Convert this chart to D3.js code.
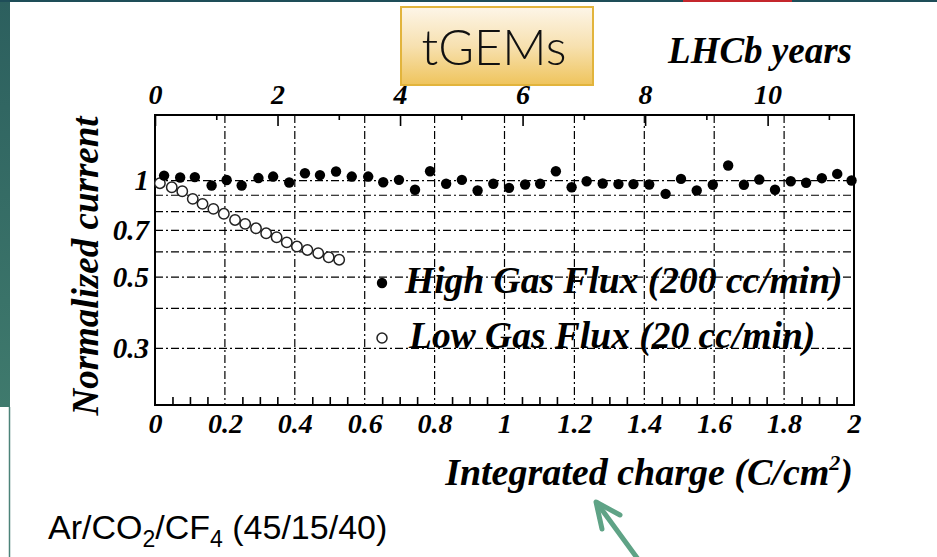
<!DOCTYPE html>
<html>
<head>
<meta charset="utf-8">
<script src="https://cdn.jsdelivr.net/npm/d3@7"></script>
<style>
  html, body { margin: 0; padding: 0; background: #fff; overflow: hidden; }
  svg { display: block; }
  .serif { font-family: "Liberation Serif", "Times New Roman", serif; font-weight: bold; font-style: italic; fill: #000; }
  .axis text { font-family: "Liberation Serif", "Times New Roman", serif; font-weight: bold; font-style: italic; fill: #000; }
  .axis line { stroke: #000; stroke-width: 1.6; }
  .axis path.domain { display: none; }
  .grid line { stroke: #000; stroke-width: 1.2; stroke-dasharray: 8,3,2,3; }
</style>
</head>
<body>
<div class="chart"></div>
<script>
// integrated charge (C/cm2) and normalized current
var chargeHigh = [0.026, 0.072, 0.114, 0.162, 0.205, 0.248, 0.296, 0.338, 0.384, 0.429,
                  0.472, 0.518, 0.563, 0.610, 0.653, 0.698, 0.744, 0.787, 0.833, 0.878,
                  0.923, 0.968, 1.013, 1.059, 1.102, 1.147, 1.192, 1.235, 1.281, 1.326,
                  1.369, 1.414, 1.461, 1.505, 1.550, 1.596, 1.640, 1.685, 1.729, 1.774,
                  1.819, 1.863, 1.908, 1.952, 1.993];
var currentHigh = [1.036, 1.022, 1.025, 0.965, 1.004, 0.965, 1.018, 1.029, 0.986, 1.054,
                   1.040, 1.067, 1.029, 1.029, 0.988, 1.005, 0.936, 1.069, 0.977, 1.005,
                   0.931, 0.977, 0.949, 0.972, 0.977, 1.069, 0.953, 0.995, 0.979, 0.975,
                   0.975, 0.972, 0.909, 1.012, 0.931, 0.970, 1.114, 0.970, 1.007, 0.936,
                   0.995, 0.984, 1.017, 1.049, 1.000];
var chargeLow = [0.014, 0.048, 0.078, 0.108, 0.136, 0.167, 0.197, 0.229, 0.258, 0.289,
                 0.318, 0.348, 0.377, 0.406, 0.436, 0.467, 0.497, 0.527];
var currentLow = [0.981, 0.953, 0.926, 0.877, 0.846, 0.816, 0.788, 0.754, 0.733, 0.710,
                  0.685, 0.666, 0.642, 0.623, 0.608, 0.594, 0.577, 0.567];

var xTicks = [0, 0.2, 0.4, 0.6, 0.8, 1, 1.2, 1.4, 1.6, 1.8, 2];
var xMinor = [0.05, 0.1, 0.15, 0.25, 0.3, 0.35, 0.45, 0.5, 0.55, 0.65, 0.7, 0.75,
              0.85, 0.9, 0.95, 1.05, 1.1, 1.15, 1.25, 1.3, 1.35, 1.45, 1.5, 1.55,
              1.65, 1.7, 1.75, 1.85, 1.9, 1.95];
var yTicks = [1, 0.7, 0.5, 0.3];
var yGrid = [0.3, 0.4, 0.5, 0.6, 0.7, 0.8, 0.9, 1];
var yearTicks = [0, 2, 4, 6, 8, 10];
var yearMinor = [1, 3, 5, 7, 9, 11];
var yearsAtFullCharge = 11.41;
var legendLabels = ['High Gas Flux (200 cc/min)', 'Low Gas Flux (20 cc/min)'];

var width = 937,
    height = 557,
    plotLeft = 155,
    plotRight = 854,
    plotTop = 115,
    plotBottom = 405,
    markerR = 5.2;

var svg = d3.select('.chart')
  .append('svg')
    .attr('width', width)
    .attr('height', height);

var defs = svg.append('defs');
var side = defs.append('linearGradient').attr('id', 'side')
    .attr('x1', 0).attr('y1', 0).attr('x2', 0).attr('y2', 1);
side.append('stop').attr('offset', 0).attr('stop-color', '#2c5f5e');
side.append('stop').attr('offset', 1).attr('stop-color', '#3f7a6d');
var gold = defs.append('linearGradient').attr('id', 'gold')
    .attr('x1', 0).attr('y1', 0).attr('x2', 0).attr('y2', 1);
gold.append('stop').attr('offset', 0).attr('stop-color', '#fdf5e8');
gold.append('stop').attr('offset', 0.5).attr('stop-color', '#f7e1b0');
gold.append('stop').attr('offset', 1).attr('stop-color', '#efc45c');

// slide frame
svg.append('rect').attr('x', 0).attr('y', 0).attr('width', 10).attr('height', 407)
    .attr('fill', 'url(#side)');
svg.append('line').attr('x1', 9.5).attr('x2', 9.5).attr('y1', 407).attr('y2', height)
    .attr('stroke', '#4c8379').attr('stroke-width', 1.5);
svg.append('rect').attr('x', 0).attr('y', 0).attr('width', width).attr('height', 2)
    .attr('fill', '#1e4d58');
svg.append('rect').attr('x', 683).attr('y', 0).attr('width', 109).attr('height', 2)
    .attr('fill', '#c4262c');

var x = d3.scaleLinear().domain([0, 2]).range([plotLeft, plotRight]);
var xYears = d3.scaleLinear().domain([0, yearsAtFullCharge]).range([plotLeft, plotRight]);
var y = d3.scaleLog().domain([0.2, 1.6]).range([plotBottom, plotTop]);

// grid
var grid = svg.append('g').attr('class', 'grid');
grid.selectAll('line.h').data(yGrid).enter().append('line')
    .attr('class', 'h')
    .attr('x1', plotLeft).attr('x2', plotRight)
    .attr('y1', function(d) { return y(d); })
    .attr('y2', function(d) { return y(d); });
grid.selectAll('line.v').data(xTicks.slice(1, -1)).enter().append('line')
    .attr('class', 'v')
    .attr('y1', plotTop).attr('y2', plotBottom)
    .attr('x1', function(d) { return x(d); })
    .attr('x2', function(d) { return x(d); });

// axes
svg.append('g').attr('class', 'axis')
    .attr('transform', 'translate(0,' + plotBottom + ')')
    .call(d3.axisBottom(x).tickValues(xMinor).tickSize(-8).tickFormat(''));
svg.append('g').attr('class', 'axis')
    .attr('transform', 'translate(0,' + plotBottom + ')')
    .call(d3.axisBottom(x).tickValues(xTicks).tickSize(0).tickPadding(8)
      .tickFormat(function(d) { return String(d); }))
  .selectAll('text').style('font-size', '28px');

svg.append('g').attr('class', 'axis')
    .attr('transform', 'translate(0,' + plotTop + ')')
    .call(d3.axisTop(xYears).tickValues(yearMinor).tickSize(-5).tickFormat(''));
svg.append('g').attr('class', 'axis')
    .attr('transform', 'translate(0,' + plotTop + ')')
    .call(d3.axisTop(xYears).tickValues(yearTicks).tickSize(-11).tickPadding(11)
      .tickFormat(function(d) { return String(d); }))
  .selectAll('text').style('font-size', '28px');

svg.append('g').attr('class', 'axis')
    .attr('transform', 'translate(' + plotLeft + ',0)')
    .call(d3.axisLeft(y).tickValues(yTicks).tickSize(0).tickPadding(6)
      .tickFormat(function(d) { return String(d); }))
  .selectAll('text').style('font-size', '29px');

// frame
svg.append('rect')
    .attr('x', plotLeft).attr('y', plotTop)
    .attr('width', plotRight - plotLeft).attr('height', plotBottom - plotTop)
    .attr('fill', 'none').attr('stroke', '#000').attr('stroke-width', 2);

// data
var high = d3.zip(chargeHigh, currentHigh);
var low = d3.zip(chargeLow, currentLow);

svg.append('g').selectAll('circle').data(low).enter().append('circle')
    .attr('cx', function(d) { return x(d[0]); })
    .attr('cy', function(d) { return y(d[1]); })
    .attr('r', markerR)
    .attr('fill', '#fff').attr('stroke', '#222').attr('stroke-width', 1.5);

svg.append('g').selectAll('circle').data(high).enter().append('circle')
    .attr('cx', function(d) { return x(d[0]); })
    .attr('cy', function(d) { return y(d[1]); })
    .attr('r', markerR)
    .attr('fill', '#000');

// legend
var legend = svg.append('g').attr('transform', 'translate(382,283)');
legend.selectAll('circle').data(legendLabels).enter().append('circle')
    .attr('cx', 0)
    .attr('cy', function(d, i) { return i * 55; })
    .attr('r', function(d, i) { return i ? 5 : 5.2; })
    .attr('fill', function(d, i) { return i ? '#fff' : '#000'; })
    .attr('stroke', function(d, i) { return i ? '#222' : 'none'; })
    .attr('stroke-width', 1.5);
legend.selectAll('text').data(legendLabels).enter().append('text')
    .attr('class', 'serif')
    .attr('x', function(d, i) { return i ? 27 : 23; })
    .attr('y', function(d, i) { return i * 55 + 10; })
    .style('font-size', '37.5px')
    .text(function(d) { return d; });

// axis titles
svg.append('text').attr('class', 'serif')
    .attr('transform', 'translate(98,266) rotate(-90)')
    .attr('text-anchor', 'middle')
    .style('font-size', '37px')
    .text('Normalized current');

svg.append('text').attr('class', 'serif')
    .attr('x', 852).attr('y', 63)
    .attr('text-anchor', 'end')
    .style('font-size', '37px')
    .text('LHCb years');

var xl = svg.append('text').attr('class', 'serif')
    .attr('x', 853).attr('y', 485)
    .attr('text-anchor', 'end')
    .style('font-size', '38px');
xl.append('tspan').text('Integrated charge (C/cm');
xl.append('tspan').attr('dy', -15).style('font-size', '22px').text('2');
xl.append('tspan').attr('dy', 15).text(')');

// title box
svg.append('rect')
    .attr('x', 401).attr('y', 7).attr('width', 192).attr('height', 78)
    .attr('fill', 'url(#gold)').attr('stroke', '#e2b43c').attr('stroke-width', 2);
svg.append('text')
    .attr('x', 494).attr('y', 65)
    .attr('text-anchor', 'middle')
    .attr('textLength', 145).attr('lengthAdjust', 'spacingAndGlyphs')
    .style('font-family', 'Lato, "DejaVu Sans", sans-serif')
    .style('font-weight', 300)
    .style('font-size', '50px')
    .style('fill', '#111')
    .text('tGEMs');

// gas mixture note
var note = svg.append('text')
    .attr('x', 48).attr('y', 539)
    .style('font-family', '"Liberation Sans", Arial, sans-serif')
    .style('font-size', '34px')
    .style('fill', '#000');
note.append('tspan').text('Ar/CO');
note.append('tspan').attr('dy', 8).style('font-size', '23px').text('2');
note.append('tspan').attr('dy', -8).text('/CF');
note.append('tspan').attr('dy', 8).style('font-size', '23px').text('4');
note.append('tspan').attr('dy', -8).text(' (45/15/40)');

// arrow pointing at the charge axis
var arrow = svg.append('g')
    .attr('stroke', '#5fa386').attr('stroke-width', 5)
    .attr('fill', 'none').attr('stroke-linecap', 'round').attr('stroke-linejoin', 'round');
arrow.append('line').attr('x1', 643).attr('y1', 566).attr('x2', 597).attr('y2', 503);
arrow.append('polyline').attr('points', '620,515 596,502 602,529');
</script>
</body>
</html>
